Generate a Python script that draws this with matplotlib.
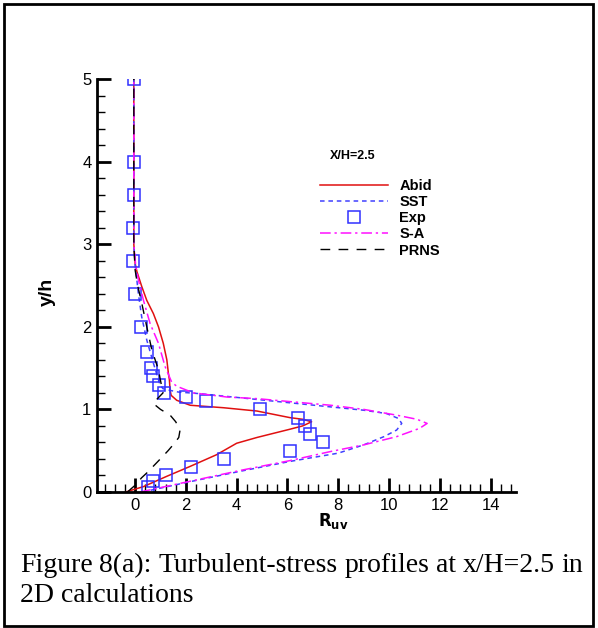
import matplotlib
matplotlib.use("Agg")
import matplotlib.pyplot as plt
from matplotlib.patches import Rectangle
from matplotlib.ticker import MultipleLocator

# experimental data (R_uv, y/h)
exp_x = [0.5, 0.7, 1.2, 2.2, 3.5, 6.1, 7.4, 6.9, 6.7, 6.4, 4.9, 2.8, 2.0, 1.15,
         0.95, 0.7, 0.63, 0.47, 0.24, 0.0, -0.1, -0.1, -0.05, -0.05, -0.05]
exp_y = [0.06, 0.13, 0.2, 0.3, 0.4, 0.5, 0.6, 0.7, 0.8, 0.9, 1.0, 1.1, 1.15, 1.2,
         1.3, 1.4, 1.5, 1.7, 2.0, 2.4, 2.8, 3.2, 3.6, 4.0, 5.0]

abid_x = [-0.37, 0.33, 1.25, 2.17, 3.2, 4.0, 4.8, 6.1, 6.6, 6.95, 6.6, 6.1, 4.8,
          3.48, 2.17, 1.64, 1.42, 1.38, 1.35, 1.31, 1.25, 1.11, 0.92, 0.72,
          0.46, 0.26, 0.07, 0.0, -0.05, -0.05, -0.05]
abid_y = [0.0, 0.065, 0.19, 0.31, 0.45, 0.59, 0.66, 0.76, 0.8, 0.85, 0.88, 0.9,
          0.98, 1.02, 1.05, 1.11, 1.17, 1.23, 1.36, 1.44, 1.6, 1.8, 2.0, 2.16,
          2.32, 2.49, 2.67, 2.77, 3.0, 4.0, 5.0]

sst_x = [0.3, 2.17, 4.13, 6.1, 8.0, 9.0, 9.8, 10.3, 10.5, 10.37, 9.9, 9.0, 7.7,
         4.8, 2.56, 1.7, 1.38, 1.1, 0.98, 0.72, 0.46, 0.26, 0.13, 0.04, 0.0,
         -0.05, -0.05]
sst_y = [0.0, 0.125, 0.25, 0.37, 0.47, 0.57, 0.67, 0.75, 0.83, 0.89, 0.95, 0.99,
         1.03, 1.12, 1.19, 1.21, 1.23, 1.25, 1.3, 1.56, 1.84, 2.12, 2.4, 2.65,
         2.75, 3.0, 5.0]

sa_x = [0.2, 2.17, 4.13, 6.1, 7.7, 9.0, 10.3, 11.2, 11.5, 11.1, 10.3, 9.0, 7.7,
        4.8, 3.6, 2.3, 1.64, 1.44, 1.18, 0.92, 0.59, 0.33, 0.13, 0.03,
        -0.05, -0.05]
sa_y = [0.0, 0.13, 0.26, 0.38, 0.49, 0.57, 0.67, 0.77, 0.83, 0.88, 0.93, 1.0,
        1.05, 1.13, 1.15, 1.2, 1.28, 1.33, 1.52, 1.8, 2.04, 2.32, 2.57, 2.72,
        3.0, 5.0]

prns_x = [-0.3, 0.07, 0.25, 0.46, 0.9, 1.3, 1.55, 1.72, 1.77, 1.6, 1.38, 1.0,
          0.72, 0.85, 1.1, 1.0, 0.92, 0.66, 0.46, 0.26, 0.1, 0.0, -0.05, -0.05]
prns_y = [0.0, 0.1, 0.17, 0.23, 0.37, 0.5, 0.59, 0.66, 0.75, 0.85, 0.93, 1.0,
          1.07, 1.12, 1.2, 1.35, 1.48, 1.72, 2.0, 2.29, 2.5, 2.69, 3.0, 5.0]

caption_1 = 'Figure 8(a): Turbulent-stress profiles at x/H=2.5 in'
caption_2 = '2D calculations'

plt.rcParams['font.family'] = ['Liberation Sans', 'DejaVu Sans']

W, H = 598, 628
fig = plt.figure(figsize=(W / 100, H / 100), dpi=100)
ax = fig.add_axes([0.1622, 0.2166, 0.7007, 0.6576])

ax.plot(abid_x, abid_y, color='#e01010', lw=1.1, label='Abid')
ax.plot(sst_x, sst_y, color='#4040ff', lw=1.1, ls=(0, (3, 2.5)), label='SST')
ax.plot(exp_x, exp_y, ls='none', marker='s', ms=8.5, mfc='none', mec='#3030ff',
        mew=1.1, label='Exp')
ax.plot(sa_x, sa_y, color='#ff10ff', lw=1.1, ls=(0, (7, 2.5, 1.5, 2.5)), label='S-A')
ax.plot(prns_x, prns_y, color='black', lw=1.0, ls=(0, (7, 6)), label='PRNS')

ax.set_xlim(-1.5, 15)
ax.set_ylim(0, 5)
ax.set_xticks(range(0, 15, 2))
ax.xaxis.set_minor_locator(MultipleLocator(0.4))
ax.yaxis.set_major_locator(MultipleLocator(1))
ax.yaxis.set_minor_locator(MultipleLocator(0.2))
ax.tick_params(which='major', direction='in', length=10, width=2, labelsize=12, pad=4)
ax.tick_params(which='minor', direction='in', length=6, width=1)
for side in ('top', 'right'):
    ax.spines[side].set_visible(False)
for side in ('left', 'bottom'):
    ax.spines[side].set_linewidth(2)

ax.set_xlabel(r'$\mathbf{R}_{\mathbf{uv}}$', fontsize=12)
ax.xaxis.set_label_coords(0.563, -0.046)
ax.set_ylabel('y/h', fontsize=14, fontweight='bold')
ax.yaxis.set_label_coords(-0.097, 0.484)

ax.text(0.555, 0.806, 'X/H=2.5', transform=ax.transAxes, fontsize=9,
        fontweight='bold')
ax.legend(loc='upper left', bbox_to_anchor=(0.532, 0.757), frameon=False,
          handlelength=4.65, handletextpad=0.8, labelspacing=0.14,
          borderpad=0, borderaxespad=0, numpoints=1,
          prop={'weight': 'bold', 'size': 10.5})

# caption: first line justified between the two margins
cap_left, cap_right = 20, 583
cap_font = dict(family='Liberation Serif', fontsize=20)
renderer = fig.canvas.get_renderer()
words = caption_1.split()
texts = [fig.text(0, 0, w, ha='left', va='baseline', **cap_font) for w in words]
widths = [t.get_window_extent(renderer).width for t in texts]
gap = (cap_right - cap_left - sum(widths)) / (len(words) - 1)
x = cap_left
for t, w in zip(texts, widths):
    t.set_position((x / W, 1 - 572 / H))
    x += w + gap
fig.text(cap_left / W, 1 - 602 / H, caption_2, ha='left', va='baseline', **cap_font)

fig.patches.append(Rectangle((4 / W, 2 / H), 589 / W, 622 / H,
                             transform=fig.transFigure, fill=False,
                             edgecolor='black', lw=2))

fig.savefig('out.png', dpi=100)
